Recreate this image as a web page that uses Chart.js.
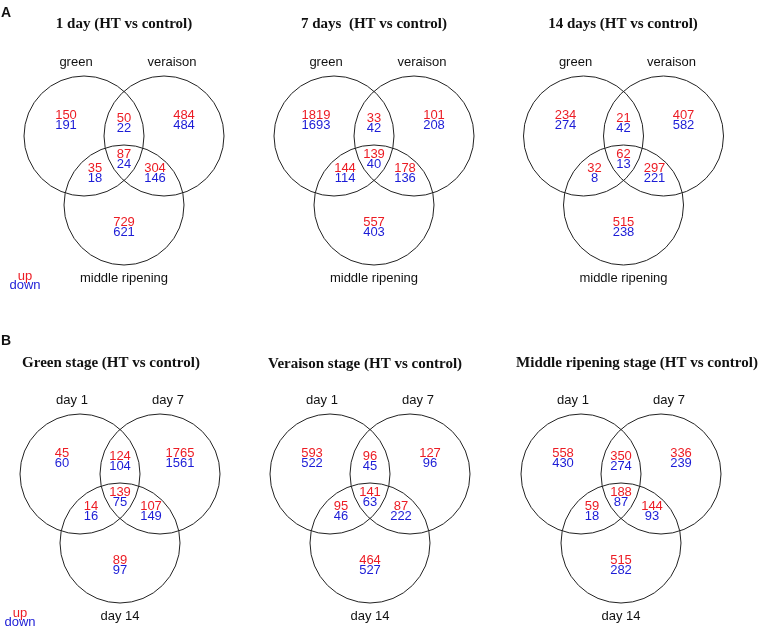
<!DOCTYPE html>
<html>
<head>
<meta charset="utf-8">
<script src="https://cdn.jsdelivr.net/npm/chart.js@4.4.1/dist/chart.umd.min.js"></script>
<style>
  html, body { margin: 0; padding: 0; background: #fff; }
  canvas { display: block; }
</style>
</head>
<body>
<canvas id="venn" width="768" height="642"></canvas>
<script>
// region order: 1st only, 2nd only, 1st+2nd, all three, 1st+3rd, 2nd+3rd, 3rd only
const panelTitles = [
    '1 day (HT vs control)',
    '7 days  (HT vs control)',
    '14 days (HT vs control)',
    'Green stage (HT vs control)',
    'Veraison stage (HT vs control)',
    'Middle ripening stage (HT vs control)'
];
const stageNames = ['green', 'veraison', 'middle ripening'];
const dayNames = ['day 1', 'day 7', 'day 14'];

const up1Day = [150, 484, 50, 87, 35, 304, 729];
const down1Day = [191, 484, 22, 24, 18, 146, 621];
const up7Days = [1819, 101, 33, 139, 144, 178, 557];
const down7Days = [1693, 208, 42, 40, 114, 136, 403];
const up14Days = [234, 407, 21, 62, 32, 297, 515];
const down14Days = [274, 582, 42, 13, 8, 221, 238];
const upGreen = [45, 1765, 124, 139, 14, 107, 89];
const downGreen = [60, 1561, 104, 75, 16, 149, 97];
const upVeraison = [593, 127, 96, 141, 95, 87, 464];
const downVeraison = [522, 96, 45, 63, 46, 222, 527];
const upMiddle = [558, 336, 350, 188, 59, 144, 515];
const downMiddle = [430, 239, 274, 87, 18, 93, 282];

const upSeries = [up1Day, up7Days, up14Days, upGreen, upVeraison, upMiddle];
const downSeries = [down1Day, down7Days, down14Days, downGreen, downVeraison, downMiddle];
const setNames = [stageNames, stageNames, stageNames, dayNames, dayNames, dayNames];

// layout (pixel units on the 768x642 scales)
const anchors = [[124, 136], [374, 136], [623.5, 136], [120, 474], [370, 474], [621, 474]];
const titlePos = [[124, 24], [374, 24], [623, 24], [111, 363], [365, 364], [637, 363]];
const circleOffsets = [[-40, 0], [40, 0], [0, 69]];
const circleR = 60;
const regionOffsets = [[-58, -16], [60, -16], [0, -13], [0, 23], [-29, 37], [31, 37], [0, 91]];
const RED = '#ec1c24';
const BLUE = '#1c1cd6';

const circlePts = [];
const upPts = [];
const downPts = [];
anchors.forEach(([ax, ay], p) => {
    circleOffsets.forEach(([dx, dy]) => circlePts.push({x: ax + dx, y: ay + dy}));
    regionOffsets.forEach(([dx, dy], r) => {
        upPts.push({x: ax + dx, y: ay + dy - 5, v: upSeries[p][r]});
        downPts.push({x: ax + dx, y: ay + dy + 5, v: downSeries[p][r]});
    });
});

const vennText = {
    id: 'vennText',
    afterDatasetsDraw(chart) {
        const c = chart.ctx;
        const sx = chart.scales.x, sy = chart.scales.y;
        const px = v => sx.getPixelForValue(v);
        const py = v => sy.getPixelForValue(v);
        c.save();
        c.textBaseline = 'middle';

        // numbers
        c.textAlign = 'center';
        c.font = '13px "Liberation Sans", Arial, sans-serif';
        [1, 2].forEach(i => {
            c.fillStyle = i === 1 ? RED : BLUE;
            chart.getDatasetMeta(i).data.forEach((el, j) => {
                c.fillText(String(chart.data.datasets[i].data[j].v), el.x, el.y);
            });
        });

        // set names
        c.fillStyle = '#111';
        anchors.forEach(([ax, ay], p) => {
            c.fillText(setNames[p][0], px(ax - 48), py(ay - 74));
            c.fillText(setNames[p][1], px(ax + 48), py(ay - 74));
            c.fillText(setNames[p][2], px(ax), py(ay + 142));
        });

        // titles
        c.font = 'bold 15px "Liberation Serif", "Times New Roman", serif';
        titlePos.forEach(([tx, ty], p) => c.fillText(panelTitles[p], px(tx), py(ty)));

        // panel letters
        c.textAlign = 'left';
        c.font = 'bold 14px "Liberation Sans", Arial, sans-serif';
        c.fillText('A', px(1), py(13));
        c.fillText('B', px(1), py(341));

        // up / down keys
        c.textAlign = 'center';
        c.font = '13px "Liberation Sans", Arial, sans-serif';
        [[25, 276], [20, 613]].forEach(([kx, ky]) => {
            c.fillStyle = RED;
            c.fillText('up', px(kx), py(ky));
            c.fillStyle = BLUE;
            c.fillText('down', px(kx), py(ky + 9));
        });
        c.restore();
    }
};

new Chart(document.getElementById('venn'), {
    type: 'scatter',
    data: {
        datasets: [
            {
                label: 'sets',
                data: circlePts,
                pointRadius: ctx => {
                    const s = ctx.chart.scales.x;
                    return s.getPixelForValue(circleR) - s.getPixelForValue(0);
                },
                pointHoverRadius: ctx => {
                    const s = ctx.chart.scales.x;
                    return s.getPixelForValue(circleR) - s.getPixelForValue(0);
                },
                pointBackgroundColor: 'rgba(0,0,0,0)',
                pointBorderColor: '#222',
                pointBorderWidth: 1
            },
            { label: 'up', data: upPts, pointRadius: 0 },
            { label: 'down', data: downPts, pointRadius: 0 }
        ]
    },
    options: {
        responsive: false,
        animation: false,
        devicePixelRatio: 1,
        layout: { padding: 0 },
        plugins: { legend: { display: false }, tooltip: { enabled: false } },
        scales: {
            x: { type: 'linear', min: 0, max: 768, display: false },
            y: { type: 'linear', min: 0, max: 642, reverse: true, display: false }
        }
    },
    plugins: [vennText]
});
</script>
</body>
</html>
